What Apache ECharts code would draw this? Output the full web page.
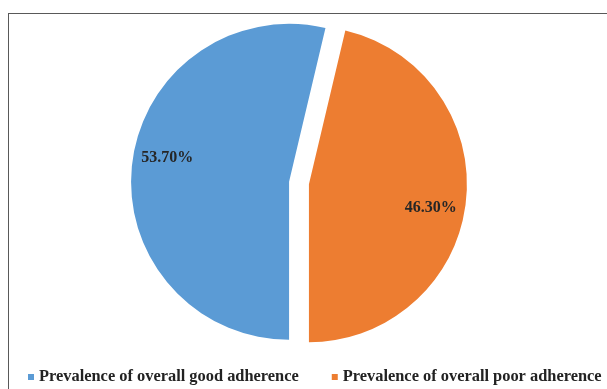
<!DOCTYPE html>
<html>
<head>
<meta charset="utf-8">
<script src="https://cdn.jsdelivr.net/npm/echarts@6/dist/echarts.min.js"></script>
<style>
  html, body { margin: 0; padding: 0; background: #fff; overflow: hidden; }
  #main { position: absolute; left: 0; top: 0; width: 607px; height: 389px; }
  #frame { position: absolute; left: 8px; top: 13px; width: 700px; height: 500px;
           border: 1px solid #595959; pointer-events: none; }
</style>
</head>
<body>
<div id="main"></div>
<div id="frame"></div>
<script>
// data
var categories = ['Prevalence of overall good adherence', 'Prevalence of overall poor adherence'];
var values = [53.70, 46.30];
var colors = ['#5B9BD5', '#ED7D31'];

var myChart = echarts.init(document.getElementById('main'));

var pieData = categories.map(function (name, i) {
    return { name: name, value: values[i], selected: true, itemStyle: { color: colors[i] } };
});

var option = {
    animation: false,
    legend: {
        data: categories,
        left: 28,
        top: 369,
        width: 600,
        padding: 0,
        icon: 'rect',
        itemWidth: 6,
        itemHeight: 6,
        itemGap: 33,
        selectedMode: false,
        textStyle: {
            fontFamily: 'Liberation Serif',
            fontWeight: 'bold',
            fontSize: 16.4,
            color: '#222'
        }
    },
    series: [
        {
            name: 'adherence',
            type: 'pie',
            center: [299, 183],
            radius: [0, 158],
            startAngle: -90,
            clockwise: true,
            selectedMode: 'multiple',
            selectedOffset: 10,
            label: { show: false },
            labelLine: { show: false },
            emphasis: { scale: false },
            data: pieData
        },
        {
            // invisible ring only used to place the percent labels
            name: 'labels',
            type: 'pie',
            center: [299, 183],
            radius: [90, 152],
            startAngle: -94,
            clockwise: true,
            selectedMode: 'multiple',
            selectedOffset: 10,
            silent: true,
            itemStyle: { color: 'rgba(0,0,0,0)' },
            label: {
                show: true,
                position: 'inside',
                formatter: function (p) { return p.value.toFixed(2) + '%'; },
                fontFamily: 'Liberation Serif',
                fontWeight: 'bold',
                fontSize: 16,
                color: '#262626'
            },
            labelLine: { show: false },
            data: categories.map(function (name, i) {
                return { name: name, value: values[i], selected: true };
            })
        }
    ]
};

myChart.setOption(option);
</script>
</body>
</html>
